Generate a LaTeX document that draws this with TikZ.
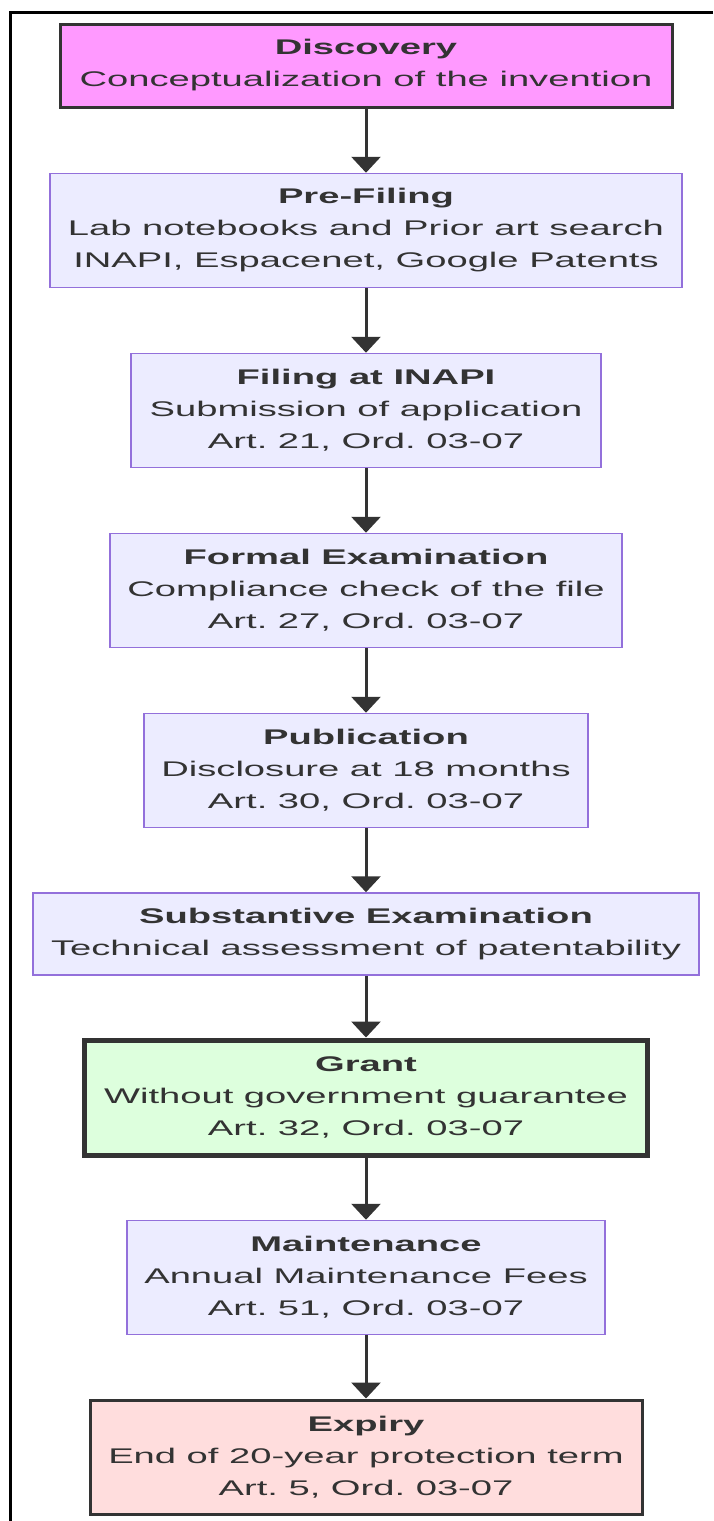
\documentclass[tikz,border=0pt]{standalone}
\usepackage{fontspec}
\setmainfont{Liberation Sans}[FakeStretch=1.8]
\usetikzlibrary{arrows.meta}

\definecolor{ink}{HTML}{333333}
\definecolor{lavline}{HTML}{9370DB}
\definecolor{lavfill}{HTML}{ECECFF}
\definecolor{pinkfill}{HTML}{FF99FF}
\definecolor{greenfill}{HTML}{DDFFDD}
\definecolor{redfill}{HTML}{FFDDDD}

\tikzset{
  stagebox/.style={draw=lavline, fill=lavfill, line width=1.5pt, text=ink,
    align=center, inner sep=0pt,
    font=\frenchspacing\fontsize{21.2}{32}\selectfont},
  startbox/.style={stagebox, draw=ink, fill=pinkfill, line width=3pt},
  grantbox/.style={stagebox, draw=ink, fill=greenfill, line width=5pt},
  endbox/.style={stagebox, draw=ink, fill=redfill, line width=3pt},
  flow/.style={draw=ink, line width=3pt,
    -{Triangle[width=29pt,length=16pt]}},
}

\begin{document}
\begin{tikzpicture}[x=1pt,y=-1pt]
\useasboundingbox (0,0) rectangle (713,1521);

% page frame (top and left edges)
\draw[line width=3pt, black] (713,12) -- (10,12) -- (10,1521);

% stages of the patent life cycle
\node[startbox, minimum width=612pt, minimum height=83pt] (disc) at (366,65.5)
  {\bfseries Discovery\\Conceptualization of the invention};
\node[stagebox, minimum width=632pt, minimum height=114pt] (pre) at (366,230.5)
  {\bfseries Pre-Filing\\Lab notebooks and Prior art search\\INAPI, Espacenet, Google Patents};
\node[stagebox, minimum width=470pt, minimum height=114pt] (filing) at (366,410.5)
  {\bfseries Filing at INAPI\\Submission of application\\Art. 21, Ord. 03-07};
\node[stagebox, minimum width=512pt, minimum height=114pt] (formal) at (366,590.5)
  {\bfseries Formal Examination\\Compliance check of the file\\Art. 27, Ord. 03-07};
\node[stagebox, minimum width=444pt, minimum height=114pt] (pub) at (366,770.5)
  {\bfseries Publication\\Disclosure at 18 months\\Art. 30, Ord. 03-07};
\node[stagebox, minimum width=666pt, minimum height=82pt] (subst) at (366,934)
  {\bfseries Substantive Examination\\Technical assessment of patentability};
\node[grantbox, minimum width=563pt, minimum height=115pt] (grant) at (366,1097.5)
  {\bfseries Grant\\Without government guarantee\\Art. 32, Ord. 03-07};
\node[stagebox, minimum width=478pt, minimum height=114pt] (maint) at (366,1277.5)
  {\bfseries Maintenance\\Annual Maintenance Fees\\Art. 51, Ord. 03-07};
\node[endbox, minimum width=552pt, minimum height=114pt] (expiry) at (366,1457)
  {\bfseries Expiry\\End of 20-year protection term\\Art. 5, Ord. 03-07};

% connectors
\draw[flow] (disc) -- (pre);
\draw[flow] (pre) -- (filing);
\draw[flow] (filing) -- (formal);
\draw[flow] (formal) -- (pub);
\draw[flow] (pub) -- (subst);
\draw[flow] (subst) -- (grant);
\draw[flow] (grant) -- (maint);
\draw[flow] (maint) -- (expiry);
\end{tikzpicture}
\end{document}
